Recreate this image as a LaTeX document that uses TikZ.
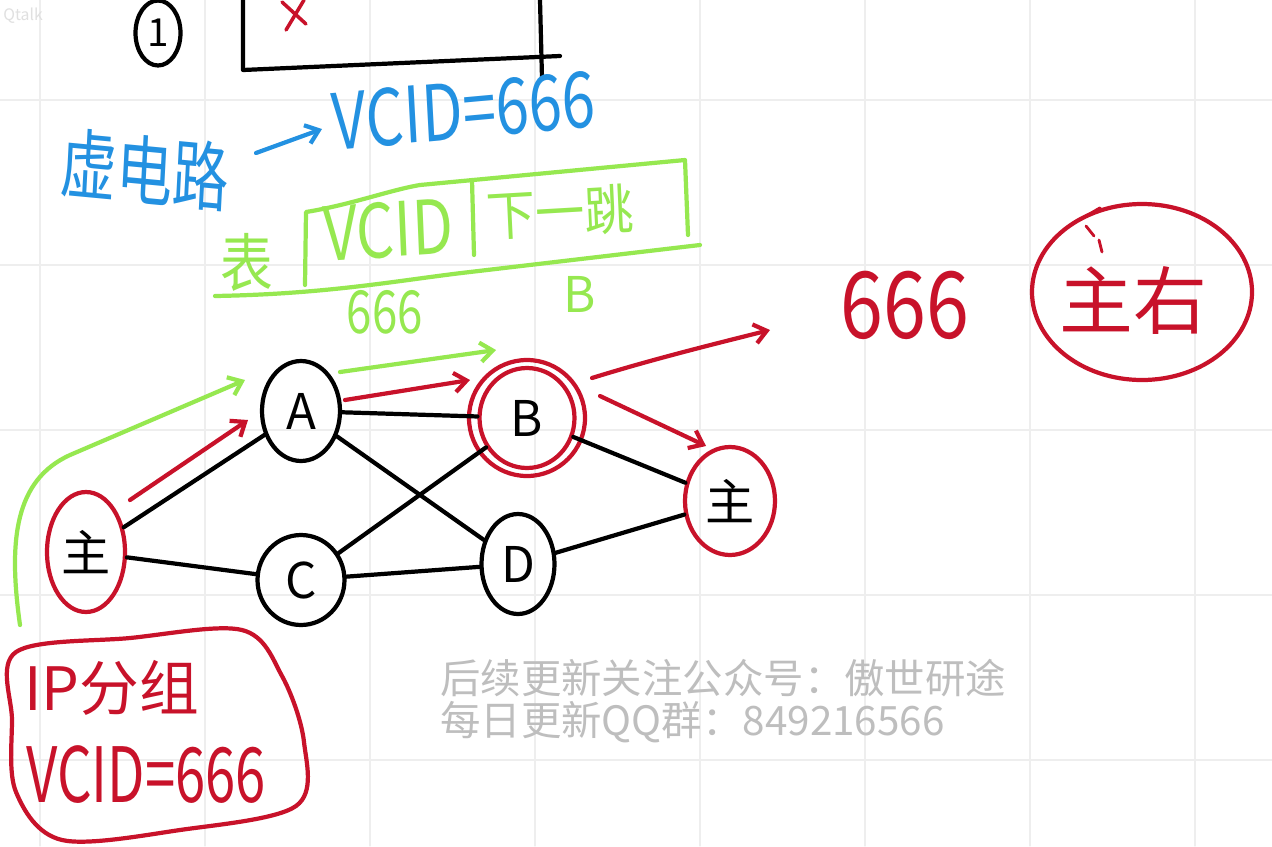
\documentclass[tikz,border=0pt]{standalone}
\usepackage{fontspec}
\newfontfamily\cjk{Noto Sans CJK SC}
\usetikzlibrary{arrows.meta,shapes.geometric}
\definecolor{hblue}{RGB}{35,145,225}
\definecolor{hgreen}{RGB}{150,232,80}
\definecolor{hred}{RGB}{200,18,42}
\definecolor{wm}{RGB}{190,190,190}
\definecolor{gridc}{RGB}{238,238,238}
\begin{document}
\begin{tikzpicture}[x=0.02cm,y=-0.02cm,line cap=round,line join=round,
  pen/.style={line width=2.4pt},
  txt/.style={font=\cjk, inner sep=0pt},
  fs/.style={font=\cjk\fontsize{#1}{#1}\selectfont},
  vert/.style={ellipse, draw=black, pen, inner sep=0pt, font=\cjk\fontsize{28}{28}\selectfont},
  rvert/.style={ellipse, draw=hred, pen, inner sep=0pt, font=\cjk\fontsize{28}{28}\selectfont},
  edge/.style={draw=black, pen},
  barb/.style={-{Straight Barb[length=7pt,width=11pt,line width=2.4pt]}},
]
\useasboundingbox (0,0) rectangle (1272,846);
\fill[white] (0,0) rectangle (1272,846);
% faint grid
\foreach \gx in {40,205,370,535,700,865,1030,1195} \draw[gridc,line width=0.6pt] (\gx,0) -- (\gx,846);
\foreach \gy in {100,265,430,595,760} \draw[gridc,line width=0.6pt] (0,\gy) -- (1272,\gy);

% watermark top-left
\node[txt, text=black!12, fs=9, anchor=west] (qt) at (3,16) {Qtalk};

% top: circled 1 and box with red cross
\node[ellipse, draw=black, pen, minimum width=0.9cm, minimum height=1.3cm, inner sep=0pt, fs=22] (one) at (158,33) {1};
\coordinate (bxTL) at (243,0);
\coordinate (bxBL) at (243,70);
\coordinate (bxBR) at (560,56);
\coordinate (bxTR) at (540,0);
\coordinate (bxRB) at (542,78);
\draw[pen] (bxTL) -- (bxBL) -- (bxBR);
\draw[pen] (bxTR) -- (bxRB);
\coordinate (x1) at (282,2); \coordinate (x2) at (306,24);
\coordinate (x3) at (304,0); \coordinate (x4) at (286,30);
\draw[hred,line width=2pt] (x1) -- (x2) (x3) -- (x4);

% blue: virtual circuit -> VCID=666
\node[txt, text=hblue, fs=32, yscale=1.35, rotate=-4] (vc) at (145,170) {虚电路};
\node[txt, text=hblue, fs=34, yscale=1.3, rotate=4, anchor=west] (vcid) at (332,122) {VCID=666};
\coordinate (ba) at (256,153);
\coordinate (bb) at (322,129);
\draw[hblue, pen, barb] (ba) -- (bb);

% green table
\node[txt, text=hgreen, fs=30, yscale=1.2] (biao) at (247,262) {表};
\coordinate (tL1) at (305,285); \coordinate (tL2) at (306,212);
\coordinate (tT1) at (420,185); \coordinate (tT2) at (685,160);
\coordinate (tR2) at (688,235);
\coordinate (tD1) at (472,180); \coordinate (tD2) at (474,255);
\coordinate (tB1) at (215,296); \coordinate (tB2) at (470,272); \coordinate (tB3) at (700,245);
\draw[hgreen, pen] (tL1) -- (tL2) .. controls (350,205) and (390,190) .. (tT1) -- (tT2) -- (tR2);
\draw[hgreen, pen] (tD1) -- (tD2);
\draw[hgreen, pen] (tB1) .. controls (330,294) and (400,280) .. (tB2) -- (tB3);
\node[txt, text=hgreen, fs=34, yscale=1.25, rotate=3] (hvcid) at (388,230) {VCID};
\node[txt, text=hgreen, fs=28, yscale=1.1, rotate=3] (hnext) at (560,212) {下一跳};
\node[txt, text=hgreen, fs=26, yscale=1.3] (v666) at (385,312) {666};
\node[txt, text=hgreen, fs=28] (vB) at (580,294) {B};

% graph nodes
\node[rvert, minimum width=1.56cm, minimum height=2.4cm] (hL) at (86,552) {主};
\node[vert, minimum width=1.56cm, minimum height=2.0cm] (A) at (301,411) {A};
\node[rvert, minimum width=1.9cm, minimum height=2.0cm] (B) at (527,418) {B};
\draw[hred, pen] (B.center) ellipse [x radius=58, y radius=58];
\node[vert, minimum width=1.74cm, minimum height=1.8cm] (C) at (301,580) {C};
\node[vert, minimum width=1.46cm, minimum height=2.0cm] (D) at (518,564) {D};
\node[rvert, minimum width=1.8cm, minimum height=2.16cm] (hR) at (730,501) {主};

\draw[edge] (hL) -- (A);
\draw[edge] (hL) -- (C);
\draw[edge] (A) -- (B);
\draw[edge] (A) -- (D);
\draw[edge] (C) -- (B);
\draw[edge] (C) -- (D);
\draw[edge] (B) -- (hR);
\draw[edge] (D) -- (hR);

% green path arrows
\coordinate (g0) at (20,625);
\coordinate (g1) at (245,380);
\draw[hgreen, pen, barb] (g0) .. controls (8,540) and (15,480) .. (70,455) -- (g1);
\coordinate (g2) at (340,372);
\coordinate (g3) at (496,350);
\draw[hgreen, pen, barb] (g2) -- (g3);

% red path arrows
\coordinate (r0) at (130,500); \coordinate (r1) at (248,420);
\draw[hred, pen, barb] (r0) -- (r1);
\coordinate (r2) at (345,400); \coordinate (r3) at (470,380);
\draw[hred, pen, barb] (r2) -- (r3);
\coordinate (r4) at (600,396); \coordinate (r5) at (706,446);
\draw[hred, pen, barb] (r4) -- (r5);
\coordinate (r6) at (592,378); \coordinate (r7) at (770,330);
\draw[hred, pen, barb] (r6) .. controls (650,360) and (710,345) .. (r7);

% red result
\node[txt, text=hred, fs=44, yscale=1.2] (r666) at (905,305) {666};
\node[txt, text=hred, fs=42] (zy) at (1133,300) {主右};
\draw[hred, pen] (1142,292) ellipse [x radius=110, y radius=88];
\coordinate (t0) at (1083,218); \coordinate (t1) at (1100,208);
\draw[hred, line width=1.8pt] (t0) -- (t1);
\draw[hred, line width=1.6pt] (1086,226) -- (1094,236) (1099,240) -- (1102,252);

% IP packet box
\node[txt, text=hred, fs=34, anchor=west] (ipg) at (24,688) {IP分组};
\node[txt, text=hred, fs=31, yscale=1.4, anchor=west] (ipv) at (26,775) {VCID=666};
\draw[hred, pen] plot[smooth cycle, tension=0.55] coordinates {(16,652) (130,638) (242,630) (282,676) (304,742) (296,806) (180,830) (62,840) (16,792) (12,720)};

% watermark
\node[txt, text=wm, fs=23, anchor=west] (wm1) at (440,678) {后续更新关注公众号：傲世研途};
\node[txt, text=wm, fs=23, anchor=west] (wm2) at (440,722) {每日更新QQ群：849216566};
\end{tikzpicture}
\end{document}
